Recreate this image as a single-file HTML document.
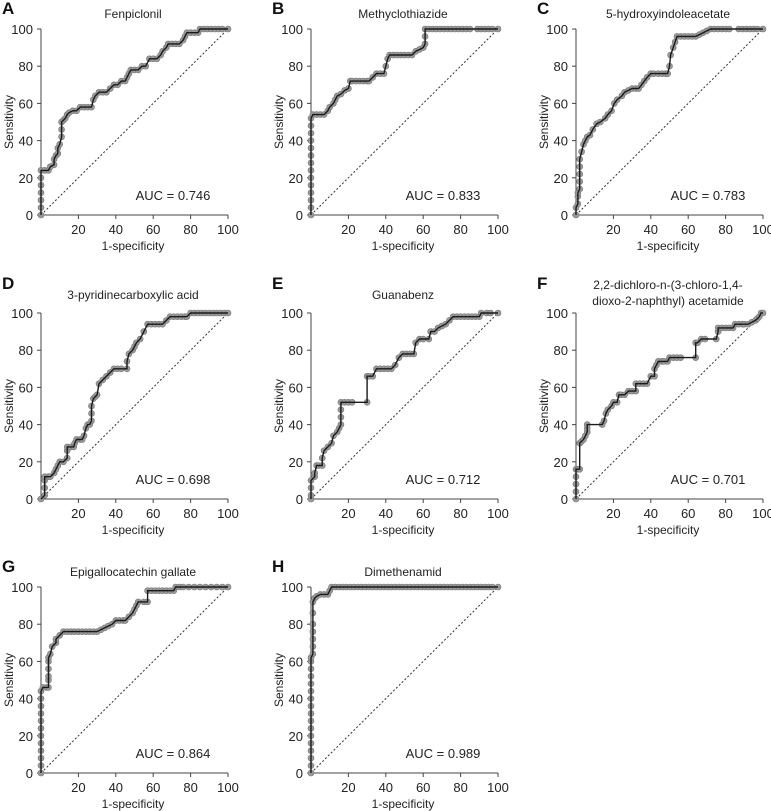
<!DOCTYPE html>
<html><head><meta charset="utf-8"><style>
html,body{margin:0;padding:0;background:#fff}
svg{display:block;font-family:"Liberation Sans",Tahoma,sans-serif}
</style></head><body>
<svg id="fig" width="771" height="811" viewBox="0 0 771 811" xmlns="http://www.w3.org/2000/svg"></svg>
<script>
const panelLetters=["A","B","C","D","E","F","G","H"];
const panelTitles=[["Fenpiclonil"],["Methyclothiazide"],["5-hydroxyindoleacetate"],["3-pyridinecarboxylic acid"],["Guanabenz"],["2,2-dichloro-n-(3-chloro-1,4-","dioxo-2-naphthyl) acetamide"],["Epigallocatechin gallate"],["Dimethenamid"]];
const aucLabels=["0.746","0.833","0.783","0.698","0.712","0.701","0.864","0.989"];
const xTicks=[20,40,60,80,100];
const yTicks=[0,20,40,60,80,100];
const fprA=[0,0,0,0,0,0,0,2,4,5,7,7,8,9,9,10,11,11,11,12,13,14,15,17,19,21,23,25,27,28,29,31,33,35,37,39,41,43,45,46,47,48,50,52,54,56,58,60,62,64,65,67,68,70,72,74,76,77,78,80,82,84,85,87,89,91,93,95,97,100];
const tprA=[0,4,8,12,16,20,24,24,24,26,27,30,32,33,36,38,42,46,50,51,52,54,55,56,56,58,58,58,58,62,64,66,66,66,68,70,70,72,72,74,76,78,78,78,80,80,84,84,84,86,88,90,92,92,92,92,94,96,98,98,98,98,100,100,100,100,100,100,100,100];
const fprB=[0,0,0,0,0,0,0,0,0,0,0,0,0,0,1,3,5,7,9,10,12,13,14,16,18,20,21,22,24,26,28,30,31,33,35,37,39,40,41,42,44,46,48,50,52,54,56,58,60,61,61,61,63,65,67,69,71,73,75,77,79,81,83,85,89,91,93,95,97,100];
const tprB=[0,4,8,12,16,20,24,28,32,36,40,44,48,52,54,54,54,54,56,58,60,62,64,65,67,68,72,72,72,72,72,72,72,74,76,76,76,80,84,86,86,86,86,86,86,86,88,89,90,92,96,100,100,100,100,100,100,100,100,100,100,100,100,100,100,100,100,100,100,100];
const fprC=[0,0,1,1,1,2,2,2,2,2,3,4,5,6,7.5,9,11,13,15.6,17,19,20.5,22,24.5,26,28,30,32,33.5,35,36.5,38,40,41.6,44,46,48,49,50,50.6,52,53,54,56,58,60,62,64,66,68,70,72,74,76,78,80,82,87,89,91,93,95,97,100];
const tprC=[0,4,6,10,12,14,18,22,26,30,34,38,40,42,43,46,49,50,52,54,56,60,62,64,66,67,68,68,68,70,72,74,76,76,76,76,76,76,80,86,90,93,96,96,96,96,96,96,97,98,99,100,100,100,100,100,100,100,100,100,100,100,100,100];
const fprD=[0,2,2,2,2,4,5,7,8,9,10,12,14,14,14,16,17.5,18,19,21,22,23,24,25,26,27,27,27,28,29,30,31,33,35,37,39,41,43,46,46,47,49,50,51,53,55,57,59,61,63,65,67,69,71,73,75,77,78,80,82,84,86,88,90,92,94,96,98,100];
const tprD=[0,2,6,10,12,12,12,14,16,18,20,20,22,26,28,28,28,30,32,32,32,34,38,40,40,42,46,50,54,55,56,62,64,66,68,70,70,70,70,74,78,80,82,84,86,90,94,94,94,94,94,96,98,98,98,98,98,98,100,100,100,100,100,100,100,100,100,100,100];
const fprE=[0,0,0,0,2,2,3,4,6,6,7,9,11,12,14,15,16,16,16,16,18,20,22,30,30,31,33,35,37,39,41,43,45,47,49,51,53,55,56,58,60,63,64,66,68,70,72,74,76,78,80,82,84,86,88,90,91,94,96,100];
const tprE=[0,2,6,10,12,14,18,18,18,22,26,28,30,34,36,38,40,44,48,52,52,52,52,52,66,66,66,70,70,70,70,70,72,76,78,78,78,78,84,86,86,86,90,90,92,93,94,96,98,98,98,98,98,98,98,98,100,100,100,100];
const fprF=[0,0,0,0,0,1,2,2,3,4,5,6,6,6,14,15,16,17,19,20,22,23,24,26,28,30,32,32,34,36,38,40,42,42,43,44,46,47,49,50,52,54,56,64,64,65,67,69,75,76,76,78,80,82,84,85,87,89,90,92,94,96,97,98,99,100];
const tprF=[0,4,8,12,16,16,16,30,31,32,34,36,38,40,40,42,46,48,50,52,52,56,56,56,58,58,58,62,62,62,62,66,66,70,72,74,74,74,74,76,76,76,76,76,84,84,86,86,86,90,92,92,92,92,92,94,94,94,94,94,95,96,97,98,100,100];
const fprG=[0,0,0,0,0,0,0,0,0,0,0,0,1,3,4,4,4,4,4,4,5,6,8,8,10,12,14,16,18,20,22,24,26,28,30,32,34,36,38,40,42,44,45,47,49,50,51,52,55,57,57,59,61,63,65,67,69,71,72,74,76,79,82,85,88,91,94,97,100];
const tprG=[0,4,8,12,16,20,24,28,32,36,40,44,46,46,46,50,52,56,60,62,64,68,70,72,74,76,76,76,76,76,76,76,76,76,76,77,78,79,80,82,82,82,82,84,86,88,90,92,92,92,98,98,98,98,98,98,98,98,100,100,100,100,100,100,100,100,100,100,100];
const fprH=[0,0,0,0,0,0,0,0,0,0,0,0,0,0,0,0,0,1,1,1,1,1,1,1,2,3,5,7,9,10,11,13,15,17,19,21,23,25,27,29,31,33,35,37,39,41,43,45,47,49,51,53,55,57,59,61,63,65,67,69,71,73,75,77,79,81,83,85,87,89,91,93,95,97,100];
const tprH=[0,4,8,12,16,20,24,28,32,36,40,44,48,52,56,60,62,64,68,72,76,80,86,92,94,95,96,96,96,98,100,100,100,100,100,100,100,100,100,100,100,100,100,100,100,100,100,100,100,100,100,100,100,100,100,100,100,100,100,100,100,100,100,100,100,100,100,100,100,100,100,100,100,100,100];
const fprAll=[fprA,fprB,fprC,fprD,fprE,fprF,fprG,fprH];
const tprAll=[tprA,tprB,tprC,tprD,tprE,tprF,tprG,tprH];

const NS="http://www.w3.org/2000/svg";
const svg=document.getElementById("fig");
const colX=[41,311,576];
const rowY0=[215,499,773];
const W=187,H=186;
function mk(tag,attrs,parent){const e=document.createElementNS(NS,tag);for(const k in attrs)e.setAttribute(k,attrs[k]);(parent||svg).appendChild(e);return e;}

for(let p=0;p<8;p++){
  const col=p%3,row=Math.floor(p/3);
  const x0=colX[col],y0=rowY0[row];
  const sx=v=>x0+v/100*W;
  const sy=v=>y0-v/100*H;
  const g=mk("g",{});
  
  
  const letter=mk("text",{x:x0-39,y:(row==0?14:row==1?289:572),"font-size":17,"font-weight":"bold",fill:"#111"},g);
  letter.textContent=panelLetters[p];
  
  
  const lines=panelTitles[p];
  const ty=lines.length==2?[y0-H-29,y0-H-13]:[(row==0?y0-H-16:row==1?y0-H-19:y0-H-16)];
  lines.forEach((ln,i)=>{
    const t=mk("text",{x:x0+92,y:ty[i]+5,"font-size":12,"text-anchor":"middle",fill:"#222"},g);
    t.textContent=ln;
    
    
  });
  const yax=mk("line",{x1:x0,y1:y0,x2:x0,y2:y0-H,stroke:"#444","stroke-width":1},g);
  
  
  const xax=mk("line",{x1:x0,y1:y0,x2:x0+W,y2:y0,stroke:"#444","stroke-width":1},g);
  
  
  yTicks.forEach(v=>{
    mk("line",{x1:x0-4,y1:sy(v),x2:x0,y2:sy(v),stroke:"#444"},g);
    const t=mk("text",{x:x0-8,y:sy(v)+5,"font-size":13,"text-anchor":"end",fill:"#222"},g);
    t.textContent=v;
    
    
  });
  xTicks.forEach(v=>{
    mk("line",{x1:sx(v),y1:y0,x2:sx(v),y2:y0+4,stroke:"#444"},g);
    const t=mk("text",{x:sx(v),y:y0+19,"font-size":13,"text-anchor":"middle",fill:"#222"},g);
    t.textContent=v;
    
    
  });
  const xt=mk("text",{x:x0+92,y:y0+35,"font-size":12,"text-anchor":"middle",fill:"#222"},g);
  xt.textContent="1-specificity";
  
  
  const yt=mk("text",{x:0,y:0,"font-size":12,"text-anchor":"middle",fill:"#222",transform:`translate(${x0-28},${y0-H/2}) rotate(-90)`},g);
  yt.textContent="Sensitivity";
  
  
  const diag=mk("line",{x1:sx(0),y1:sy(0),x2:sx(100),y2:sy(100),stroke:"#333","stroke-width":1,"stroke-dasharray":"2,2"},g);
  
  
  const fx=fprAll[p],ty2=tprAll[p];
  let d="";
  fx.forEach((v,i)=>{d+=(i?"L":"M")+sx(v).toFixed(1)+","+sy(ty2[i]).toFixed(1);});
  const dots=mk("g",{},g);
  
  
  fx.forEach((v,i)=>{
    const c=mk("circle",{cx:sx(v),cy:sy(ty2[i]),r:3,fill:"#9a9a9a",stroke:"#777","stroke-width":0.6},dots);
    
    
  });
  const path=mk("path",{d:d,fill:"none",stroke:"#1a1a1a","stroke-width":1.4},g);
  
  
  const auc=mk("text",{x:x0+132,y:y0-15,"font-size":13,"text-anchor":"middle",fill:"#222"},g);
  auc.textContent="AUC = "+aucLabels[p];
  
  
}
</script>
</body></html>
